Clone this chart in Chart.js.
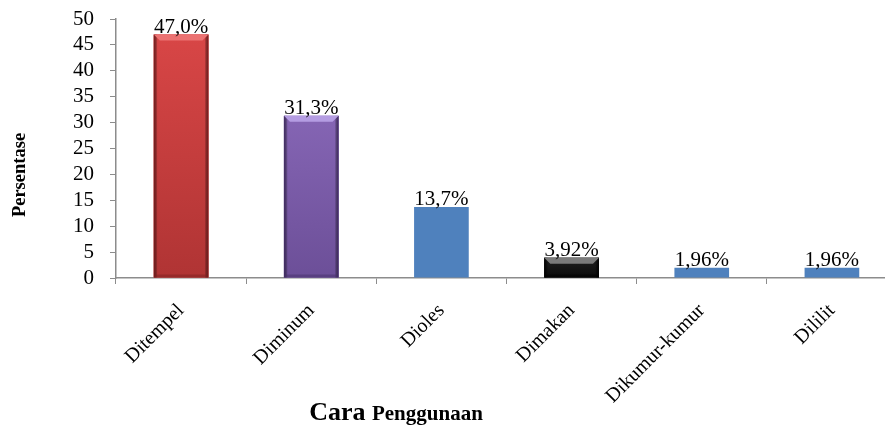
<!DOCTYPE html>
<html>
<head>
<meta charset="utf-8">
<script src="https://cdn.jsdelivr.net/npm/chart.js@4/dist/chart.umd.min.js"></script>
<style>
  html, body { margin: 0; padding: 0; background: #fff; overflow: hidden; }
  #wrap { width: 900px; height: 426px; }
</style>
</head>
<body>
<div id="wrap"><canvas id="caraChart" width="900" height="426"></canvas></div>
<script>
// Data
const categories = ['Ditempel', 'Diminum', 'Dioles', 'Dimakan', 'Dikumur-kumur', 'Dililit'];
const persentase = [47.0, 31.3, 13.7, 3.92, 1.96, 1.96];
const decimals = [1, 1, 1, 2, 2, 2];
const yTicks = [0, 5, 10, 15, 20, 25, 30, 35, 40, 45, 50];

// bar colours: top/bottom of body, dark edge, light top face (plain bars have base only)
const barStyles = [
  { base: '#d24242', top: '#d84646', bottom: '#b03434', dark: '#7e1f1f', light: '#ec7272' },
  { base: '#7f5fae', top: '#8565b4', bottom: '#6c4f98', dark: '#46306a', light: '#b49ce2' },
  { base: '#4f81bd' },
  { base: '#151515', top: '#202020', bottom: '#0a0a0a', dark: '#000000', light: '#7a7a7a' },
  { base: '#4f81bd' },
  { base: '#4f81bd' }
];

const serif = '"Liberation Serif", "Times New Roman", serif';
const axisGray = '#8c8c8c';

// bevel look for the shaded bars
const bevelPlugin = {
  id: 'bevel',
  afterDatasetsDraw(chart) {
    const ctx = chart.ctx;
    chart.getDatasetMeta(0).data.forEach((bar, i) => {
      const s = barStyles[i];
      if (!s.dark) return;
      const l = bar.x - bar.width / 2, r = bar.x + bar.width / 2;
      const t = bar.y, b = bar.base;
      const bv = Math.min(6, (b - t) / 3);
      ctx.save();
      const v = ctx.createLinearGradient(0, t, 0, b);
      v.addColorStop(0, s.top);
      v.addColorStop(1, s.bottom);
      ctx.fillStyle = v;
      ctx.fillRect(l, t, r - l, b - t);
      // darker side edges
      const g = ctx.createLinearGradient(l, 0, r, 0);
      g.addColorStop(0, s.dark);
      g.addColorStop(0.07, 'rgba(0,0,0,0)');
      g.addColorStop(0.93, 'rgba(0,0,0,0)');
      g.addColorStop(1, s.dark);
      ctx.fillStyle = g;
      ctx.fillRect(l, t, r - l, b - t);
      // top face
      ctx.fillStyle = s.light;
      ctx.beginPath();
      ctx.moveTo(l, t); ctx.lineTo(r, t); ctx.lineTo(r - bv, t + bv); ctx.lineTo(l + bv, t + bv);
      ctx.closePath(); ctx.fill();
      // bottom face
      ctx.globalAlpha = 0.5;
      ctx.fillStyle = s.dark;
      ctx.beginPath();
      ctx.moveTo(l, b); ctx.lineTo(r, b); ctx.lineTo(r - bv / 2, b - bv / 2); ctx.lineTo(l + bv / 2, b - bv / 2);
      ctx.closePath(); ctx.fill();
      ctx.restore();
    });
  }
};

// value labels above the bars
const valueLabels = {
  id: 'valueLabels',
  afterDatasetsDraw(chart) {
    const ctx = chart.ctx;
    ctx.save();
    ctx.font = '21px ' + serif;
    ctx.fillStyle = '#000';
    ctx.textAlign = 'center';
    ctx.textBaseline = 'alphabetic';
    chart.getDatasetMeta(0).data.forEach((bar, i) => {
      const txt = persentase[i].toFixed(decimals[i]).replace('.', ',') + '%';
      ctx.fillText(txt, bar.x, bar.y - 2);
    });
    ctx.restore();
  }
};

// axis titles: x title uses two font sizes, y title sits a bit below centre
const axisTitles = {
  id: 'axisTitles',
  afterDraw(chart) {
    const ctx = chart.ctx;
    ctx.save();
    ctx.fillStyle = '#000';
    ctx.textBaseline = 'alphabetic';
    const big = 'bold 26px ' + serif, small = 'bold 21px ' + serif;
    ctx.font = big;
    const w1 = ctx.measureText('Cara ').width;
    ctx.font = small;
    const w2 = ctx.measureText('Penggunaan').width;
    let x = 396 - (w1 + w2) / 2;
    ctx.font = big;
    ctx.textAlign = 'left';
    ctx.fillText('Cara ', x, 420);
    ctx.font = small;
    ctx.fillText('Penggunaan', x + w1, 420);

    ctx.translate(20, 175);
    ctx.rotate(-Math.PI / 2);
    ctx.font = 'bold 18.5px ' + serif;
    ctx.textAlign = 'center';
    ctx.textBaseline = 'middle';
    ctx.fillText('Persentase', 0, 0);
    ctx.restore();
  }
};

new Chart(document.getElementById('caraChart'), {
  type: 'bar',
  data: {
    labels: categories,
    datasets: [{
      data: persentase,
      backgroundColor: barStyles.map(s => s.base),
      borderWidth: 0,
      barPercentage: 0.42,
      categoryPercentage: 1
    }]
  },
  options: {
    responsive: false,
    animation: false,
    layout: { padding: { top: 19, right: 3, left: 0, bottom: 0 } },
    plugins: { legend: { display: false }, tooltip: { enabled: false } },
    scales: {
      x: {
        afterFit(scale) { scale.height = 148; },
        grid: { display: true, offset: true, drawOnChartArea: false, tickLength: 6, color: axisGray },
        border: { color: axisGray, width: 1.5 },
        ticks: {
          color: '#000',
          font: { family: serif, size: 20 },
          minRotation: 45,
          maxRotation: 45,
          padding: 15
        }
      },
      y: {
        min: 0,
        max: 50,
        afterFit(scale) { scale.width = 116; },
        afterBuildTicks(scale) { scale.ticks = yTicks.map(v => ({ value: v })); },
        grid: { display: true, drawOnChartArea: false, tickLength: 6, color: axisGray },
        border: { color: axisGray, width: 1.5 },
        ticks: {
          color: '#000',
          // small lineHeight keeps the top label from pushing the plot down
          font: { family: serif, size: 21, lineHeight: 0.2 },
          padding: 16,
          autoSkip: false
        }
      }
    }
  },
  plugins: [bevelPlugin, valueLabels, axisTitles]
});
</script>
</body>
</html>
